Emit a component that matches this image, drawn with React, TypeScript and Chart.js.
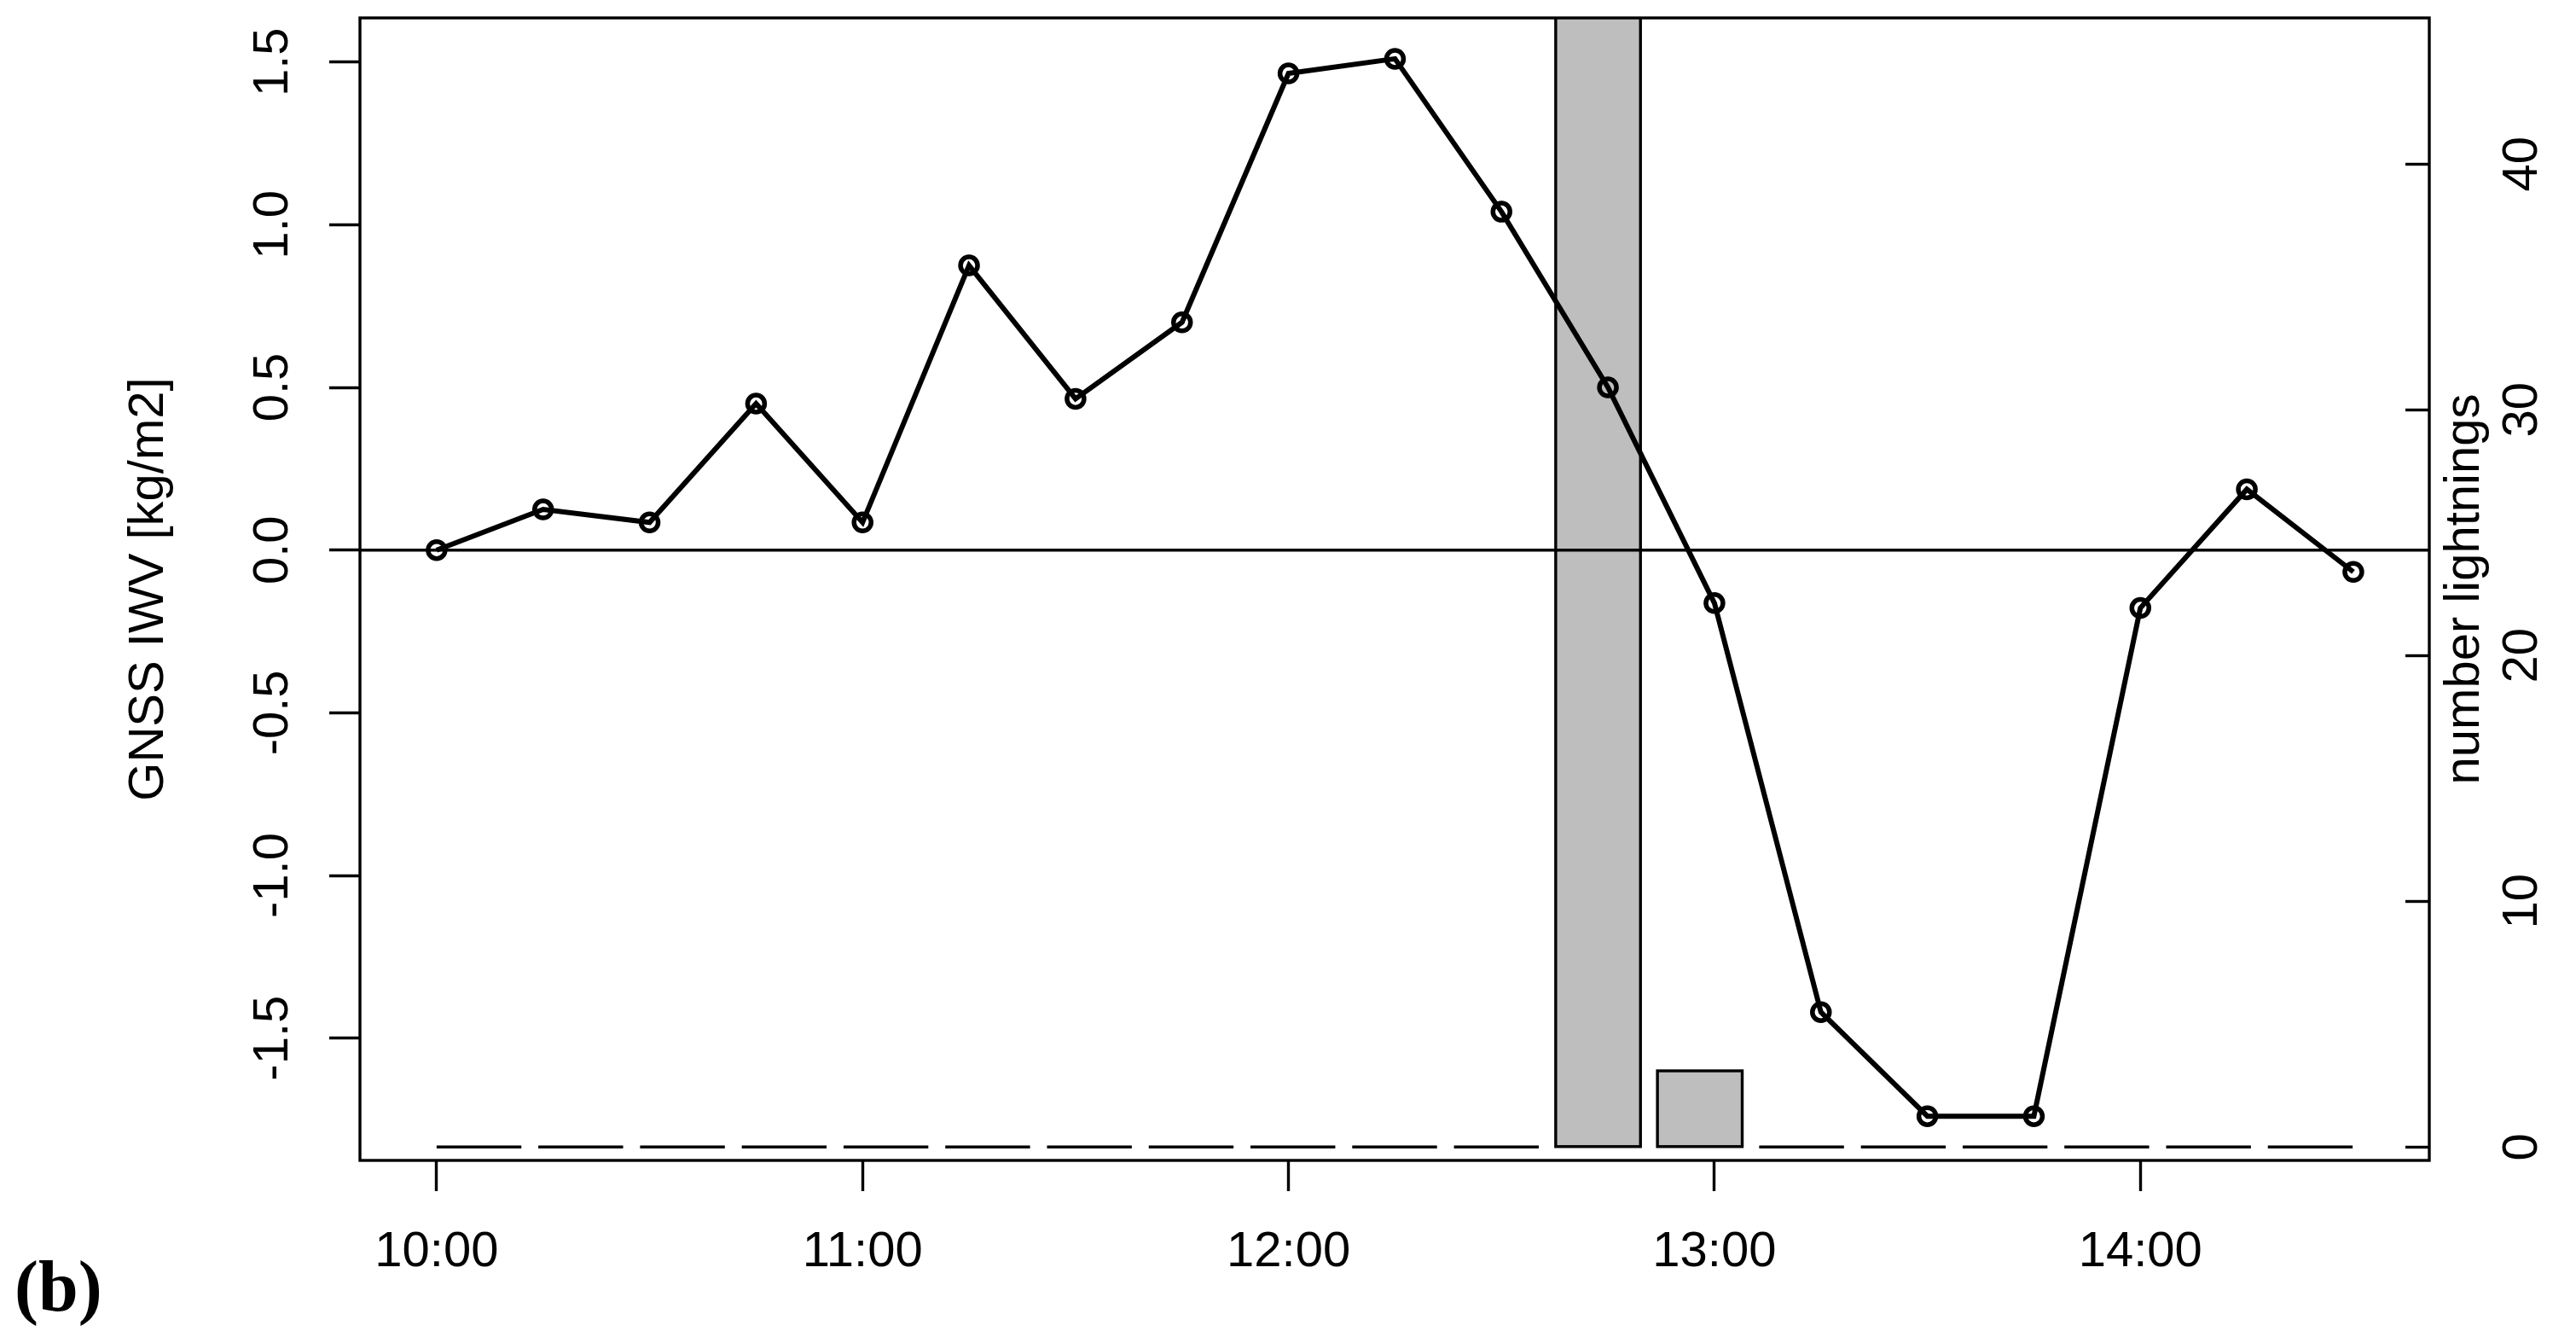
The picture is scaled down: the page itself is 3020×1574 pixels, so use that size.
import { useEffect, useRef } from 'react';
import { Chart, registerables } from 'chart.js';

Chart.register(...registerables);

// ---------- data ----------
const times = ['10:00', '10:15', '10:30', '10:45', '11:00', '11:15', '11:30', '11:45', '12:00', '12:15',
  '12:30', '12:45', '13:00', '13:15', '13:30', '13:45', '14:00', '14:15', '14:30'];
const iwv = [0.0, 0.125, 0.085, 0.45, 0.085, 0.875, 0.465, 0.7, 1.465, 1.51,
  1.04, 0.5, -0.163, -1.42, -1.74, -1.74, -0.178, 0.187, -0.067];
// lightning counts per bin (19 bins, R barplot layout)
const lightnings = [0, 0, 0, 0, 0, 0, 0, 0, 0, 0, 0, 50, 3.1, 0, 0, 0, 0, 0, 0];
const xTickLabels = ['10:00', '11:00', '12:00', '13:00', '14:00'];
const leftTicks = [-1.5, -1.0, -0.5, 0.0, 0.5, 1.0, 1.5];
const rightTicks = [0, 10, 20, 30, 40];

// ---------- layout / style ----------
const W = 3020;
const H = 1574;
const LW = 3.4;
const FONT = { family: "'Liberation Sans', Arial, sans-serif", size: 58 };
const BAR_WIDTH = 1;
const BAR_SPACE = 0.2;

const toMinutes = (t: string) => {
  const [h, m] = t.split(':').map(Number);
  return h * 60 + m - 600;
};

const barCenter = (i: number) => BAR_SPACE + BAR_WIDTH / 2 + i * (BAR_WIDTH + BAR_SPACE);

const zeroPad = (s: any) => {
  s.paddingTop = 0;
  s.paddingBottom = 0;
  s.paddingLeft = 0;
  s.paddingRight = 0;
};

const rPlugin = {
  id: 'rdecor',
  afterDatasetDraw(chart: any, args: any) {
    const ds = chart.data.datasets[args.index];
    if (ds.type !== 'bar') return;
    const { ctx, chartArea: ca } = chart;
    ctx.save();
    ctx.beginPath();
    ctx.rect(ca.left, ca.top, ca.right - ca.left, ca.bottom - ca.top);
    ctx.clip();
    ctx.strokeStyle = '#000';
    ctx.lineWidth = LW;
    args.meta.data.forEach((el: any) => {
      const { x, y, base, width } = el.getProps(['x', 'y', 'base', 'width'], true);
      const top = Math.min(y, base);
      const h = Math.abs(base - y);
      ctx.strokeRect(x - width / 2, top, width, h);
    });
    ctx.restore();
  },
  afterDatasetsDraw(chart: any) {
    const { ctx, chartArea: ca } = chart;
    const y0 = chart.scales.y.getPixelForValue(0);
    ctx.save();
    ctx.strokeStyle = '#000';
    ctx.lineWidth = LW;
    ctx.beginPath();
    ctx.moveTo(ca.left, y0);
    ctx.lineTo(ca.right, y0);
    ctx.stroke();
    ctx.strokeRect(ca.left, ca.top, ca.right - ca.left, ca.bottom - ca.top);
    ctx.restore();
  },
  afterDraw(chart: any) {
    const { ctx, chartArea: ca } = chart;
    ctx.save();
    ctx.fillStyle = '#000';
    ctx.translate(chart.scales.y2.left + 42, (ca.top + ca.bottom) / 2);
    ctx.rotate(-Math.PI / 2);
    ctx.textAlign = 'center';
    ctx.textBaseline = 'middle';
    ctx.font = `${FONT.size}px ${FONT.family}`;
    ctx.fillText('number lightnings', 0, 0);
    ctx.restore();

    ctx.save();
    ctx.fillStyle = '#000';
    ctx.textAlign = 'left';
    ctx.textBaseline = 'alphabetic';
    ctx.font = "bold 84px 'Liberation Serif', 'Times New Roman', serif";
    ctx.fillText('(b)', 17, 1536);
    ctx.restore();
  },
};

export default function App() {
  const ref = useRef<HTMLCanvasElement>(null);

  useEffect(() => {
    const canvas = ref.current;
    if (!canvas) return;

    const lineData = times.map((t, i) => ({ x: toMinutes(t), y: iwv[i] }));
    const barData = lightnings.map((v, i) => ({ x: barCenter(i), y: v }));

    const tickGrid = {
      display: true,
      drawOnChartArea: false,
      drawTicks: true,
      tickLength: 36,
      tickWidth: LW,
      tickColor: '#000',
      color: '#000',
      offset: false,
    };

    const chart = new Chart(canvas, {
      type: 'line',
      data: {
        datasets: [
          {
            type: 'line',
            label: 'GNSS IWV',
            data: lineData,
            xAxisID: 'x',
            yAxisID: 'y',
            order: 1,
            borderColor: '#000',
            borderWidth: 6,
            tension: 0,
            fill: false,
            pointStyle: 'circle',
            pointRadius: 10,
            pointBorderWidth: 5.5,
            pointBorderColor: '#000',
            pointBackgroundColor: 'rgba(0,0,0,0)',
          } as any,
          {
            type: 'bar',
            label: 'number lightnings',
            data: barData,
            xAxisID: 'xb',
            yAxisID: 'y2',
            order: 2,
            backgroundColor: '#BEBEBE',
            borderWidth: 0,
            barPercentage: 1,
            categoryPercentage: BAR_WIDTH / (BAR_WIDTH + BAR_SPACE),
            grouped: false,
          } as any,
        ],
      },
      options: {
        responsive: false,
        maintainAspectRatio: false,
        devicePixelRatio: 1,
        animation: false,
        events: [],
        layout: { padding: { top: 21, left: 0, right: 0, bottom: 0 } },
        plugins: {
          legend: { display: false },
          tooltip: { enabled: false },
        },
        scales: {
          x: {
            type: 'linear',
            position: 'bottom',
            min: -10.8,
            max: 280.7,
            offset: false,
            afterBuildTicks: (s: any) => {
              s.ticks = xTickLabels.map((l) => ({ value: toMinutes(l) }));
            },
            afterFit: (s: any) => {
              s.height = H - 1360;
              zeroPad(s);
            },
            ticks: {
              autoSkip: false,
              maxRotation: 0,
              minRotation: 0,
              padding: 37,
              color: '#000',
              font: FONT,
              callback: (_v: any, i: number) => xTickLabels[i],
            },
            grid: tickGrid,
            border: { display: false },
          },
          xb: {
            type: 'linear',
            display: false,
            min: -0.704,
            max: 23.704,
            offset: false,
            afterBuildTicks: (s: any) => {
              s.ticks = lightnings.map((_v, i) => ({ value: barCenter(i) }));
            },
            grid: { offset: false },
          },
          y: {
            type: 'linear',
            position: 'left',
            min: -1.8758,
            max: 1.6356,
            afterBuildTicks: (s: any) => {
              s.ticks = leftTicks.map((v) => ({ value: v }));
            },
            afterFit: (s: any) => {
              s.width = 422;
              zeroPad(s);
            },
            ticks: {
              autoSkip: false,
              minRotation: 90,
              maxRotation: 90,
              crossAlign: 'center',
              padding: 15,
              color: '#000',
              font: FONT,
              callback: (v: any) => Number(v).toFixed(1),
            },
            grid: tickGrid,
            border: { display: false },
            title: {
              display: true,
              text: 'GNSS IWV [kg/m2]',
              color: '#000',
              font: FONT,
              padding: { top: 140, bottom: 0 },
            },
          },
          y2: {
            type: 'linear',
            position: 'right',
            min: -0.545,
            max: 45.95,
            afterBuildTicks: (s: any) => {
              s.ticks = rightTicks.map((v) => ({ value: v }));
            },
            afterFit: (s: any) => {
              s.width = W - 2848;
              zeroPad(s);
            },
            ticks: {
              autoSkip: false,
              minRotation: 90,
              maxRotation: 90,
              crossAlign: 'center',
              padding: 106,
              color: '#000',
              font: FONT,
              callback: (v: any) => String(v),
            },
            grid: { ...tickGrid, tickLength: -28 },
            border: { display: false },
          },
        } as any,
      },
      plugins: [rPlugin],
    });

    return () => chart.destroy();
  }, []);

  return (
    <div style={{ position: 'fixed', left: 0, top: 0, width: W, height: H, background: '#fff' }}>
      <canvas ref={ref} width={W} height={H} style={{ display: 'block', width: W, height: H }} />
    </div>
  );
}
